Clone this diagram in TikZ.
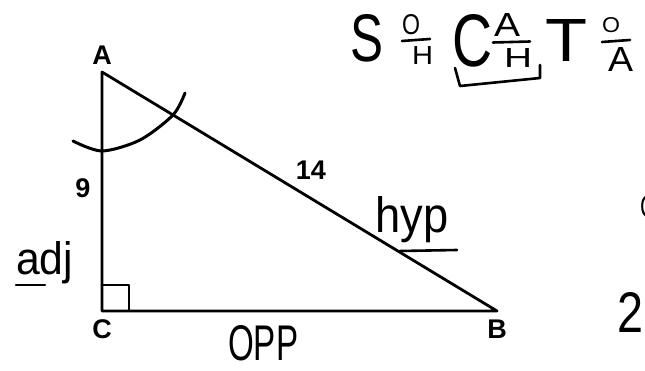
\documentclass[tikz,border=0pt]{standalone}
\usepackage{fontspec}
\setmainfont{Liberation Sans}
\usepackage{graphicx}
\begin{document}
\begin{tikzpicture}[x=1pt,y=-1pt,line cap=round,line join=round,
  edge/.style={line width=2.8pt},
  pen/.style={line width=2.6pt},
  lbl/.style={font=\fontsize{27}{27}\selectfont\bfseries,inner sep=0pt},
  hand/.style={inner sep=0pt,anchor=base west}]
\useasboundingbox (0,0) rectangle (645,371);
\clip (0,0) rectangle (645,371);
\fill[white] (0,0) rectangle (645,371);
% triangle
\coordinate (A) at (102,72);
\coordinate (C) at (102,311);
\coordinate (B) at (497,311);
\draw[edge] (A) -- (C) -- (B) -- cycle;
\draw[line width=2.2pt] (C) ++(0,-26) -| ++(27,26);
% angle arc
\draw[pen,line width=3pt] plot[smooth] coordinates {(73,141) (102,151) (140,140) (173,115) (185,93)};
% printed labels
\node[lbl] (lA) at (102,55) {A};
\node[lbl] (lC) at (102,329) {C};
\node[lbl] (lB) at (497,329) {B};
\node[lbl] (l9) at (83,188) {9};
\node[lbl] (l14) at (311,170) {14};
% handwritten labels
\node[hand] (adj) at (16,275) {\resizebox{57pt}{33pt}{adj}};
\draw[pen] (16,285) -- (45,285);
\node[hand] (hyp) at (375,233) {\resizebox{73pt}{36pt}{hyp}};
\draw[pen] (400,251) -- (457,250);
\node[hand] (opp) at (228,360) {\resizebox{70pt}{35pt}{OPP}};
% SOH CAH TOA
\node[hand] (S) at (350,62) {\resizebox{33pt}{47pt}{S}};
\node[hand] (o1) at (402,35) {\resizebox{18pt}{20pt}{O}};
\draw[pen] (402,41) -- (430,39);
\node[hand] (h1) at (412,65) {\resizebox{21pt}{18pt}{H}};
\node[hand] (Cc) at (452,67) {\resizebox{40pt}{52pt}{C}};
\node[hand] (a2) at (494,37) {\resizebox{26pt}{23pt}{A}};
\draw[pen] (493,42.5) -- (530,41.5);
\node[hand] (h2) at (504,68) {\resizebox{28pt}{19pt}{H}};
\draw[pen] (455,68) -- (460,86) -- (540,78) -- (540,65);
\node[hand] (T) at (545,62) {\resizebox{42pt}{42pt}{T}};
\node[hand] (o3) at (602,33) {\resizebox{18pt}{15pt}{O}};
\draw[pen] (602,42) -- (630,40);
\node[hand] (a3) at (608,72) {\resizebox{25pt}{24pt}{A}};
% cut-off text at right edge
\node[hand] (cut) at (640,218) {\resizebox{16pt}{22pt}{C}};
\node[hand] (two) at (617,332) {\resizebox{26pt}{40pt}{2}};
\end{tikzpicture}
\end{document}
